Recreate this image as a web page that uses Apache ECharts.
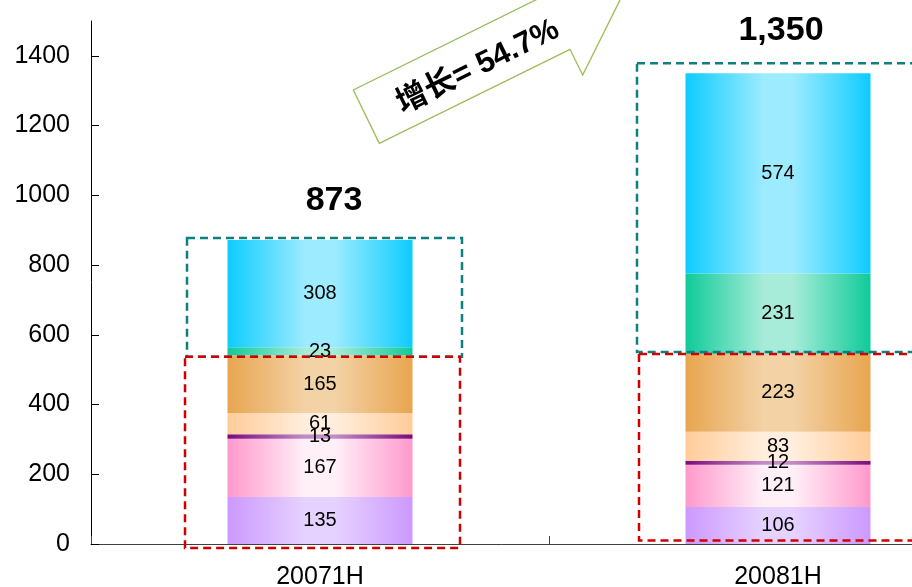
<!DOCTYPE html>
<html>
<head>
<meta charset="utf-8">
<style>
  html, body { margin: 0; padding: 0; background: #ffffff; }
  #chart { width: 912px; height: 587px; }
</style>
<script src="https://cdn.jsdelivr.net/npm/echarts@6.0.0/dist/echarts.min.js"></script>
</head>
<body>
<div id="chart"></div>
<script>
// Half-year periods on the category axis
const categories = ['20071H', '20081H'];

// Stack segments, bottom to top
const segPurple = [135, 106];
const segPink   = [167, 121];
const segPlum   = [13, 12];
const segPeach  = [61, 83];
const segOrange = [165, 223];
const segGreen  = [23, 231];
const segBlue   = [308, 574];

// Stated totals above each stack
const totals = [873, 1350];
const totalLabels = ['873', '1,350'];

// Value-axis ticks
const yTicks = [0, 200, 400, 600, 800, 1000, 1200, 1400];

const growthText = '增长= 54.7%';

const FONT = '"Liberation Sans", Arial, "Noto Sans CJK SC", sans-serif';

function barFill(edge, center) {
  return new echarts.graphic.LinearGradient(0, 0, 1, 0, [
    { offset: 0, color: edge },
    { offset: 0.42, color: center },
    { offset: 0.58, color: center },
    { offset: 1, color: edge }
  ]);
}

const segments = [
  { name: 'p1', data: segPurple, edge: '#CC99FF', center: '#E6D2FF' },
  { name: 'p2', data: segPink,   edge: '#FF99CC', center: '#FFF0F8' },
  { name: 'p3', data: segPlum,   edge: '#7A0A7E', center: '#C48CC4' },
  { name: 'p4', data: segPeach,  edge: '#FFCC99', center: '#FFEEDD' },
  { name: 'p5', data: segOrange, edge: '#E8A54F', center: '#F3D2A6' },
  { name: 'p6', data: segGreen,  edge: '#0FCB99', center: '#A6ECD8' },
  { name: 'p7', data: segBlue,   edge: '#0DCCFF', center: '#9CEBFF' }
];

const chart = echarts.init(document.getElementById('chart'), null, { renderer: 'canvas' });

const barSeries = segments.map(s => ({
  name: s.name,
  type: 'bar',
  stack: 'total',
  barWidth: 185,
  data: s.data,
  itemStyle: { color: barFill(s.edge, s.center) },
  label: {
    show: true,
    position: 'inside',
    color: '#000',
    fontSize: 20,
    fontFamily: FONT
  },
  emphasis: { disabled: true },
  animation: false
}));

const totalOffsets = [[14, 2], [3, -2]];

const totalSeries = {
  type: 'scatter',
  symbolSize: 0,
  itemStyle: { opacity: 1 },
  data: totals.map((v, i) => ({
    value: v,
    label: { offset: totalOffsets[i] }
  })),
  label: {
    show: true,
    position: 'top',
    distance: 24,
    color: '#000',
    opacity: 1,
    fontSize: 34,
    fontWeight: 'bold',
    fontFamily: FONT,
    formatter: p => totalLabels[p.dataIndex]
  },
  emphasis: { disabled: true },
  animation: false,
  z: 5
};

chart.setOption({
  animation: false,
  backgroundColor: '#ffffff',
  grid: { left: 91, top: 21, bottom: 43, width: 916, outerBoundsMode: 'none', containLabel: false },
  xAxis: {
    type: 'category',
    data: categories,
    axisLine: { lineStyle: { color: '#404040', width: 1 } },
    axisTick: { show: true, inside: true, length: 8, lineStyle: { color: '#404040' } },
    axisLabel: { fontSize: 25, color: '#000', fontFamily: FONT, margin: 21 },
    splitLine: { show: false }
  },
  yAxis: {
    type: 'value',
    min: 0,
    max: 1500,
    interval: 100,
    axisLine: { show: true, lineStyle: { color: '#000', width: 1 } },
    axisTick: {
      show: true, inside: true, length: 8,
      customValues: yTicks,
      lineStyle: { color: '#000' }
    },
    axisLabel: {
      customValues: yTicks,
      formatter: v => String(v),
      fontSize: 25, color: '#000', fontFamily: FONT, margin: 21
    },
    splitLine: { show: false }
  },
  series: barSeries.concat([totalSeries])
});

// Dashed group outlines: the upper (green + blue) and lower five segments of each stack
function px(i, v) { return chart.convertToPixel({ seriesIndex: 0 }, [i, v]); }

const lowerSums = categories.map((_, i) =>
  segPurple[i] + segPink[i] + segPlum[i] + segPeach[i] + segOrange[i]);
const stackTops = categories.map((_, i) =>
  lowerSums[i] + segGreen[i] + segBlue[i]);

// pixel insets of each outline relative to the stack it frames
const outlineInsets = [
  { upper: { l: -133, r: 142, t: -2, b: 1.5 }, lower: { l: -135, r: 140, t: 1.5, b: 4 } },
  { upper: { l: -141, r: 140, t: -10, b: -2 }, lower: { l: -139, r: 140, t: 0, b: -3.5 } }
];

const graphics = [];
categories.forEach((_, i) => {
  const base = px(i, 0);
  const mid = px(i, lowerSums[i]);
  const top = px(i, stackTops[i]);
  const xc = base[0];
  const ins = outlineInsets[i];
  const u = ins.upper, lo = ins.lower;
  graphics.push({
    type: 'rect',
    shape: { x: xc + u.l, y: top[1] + u.t, width: u.r - u.l, height: (mid[1] + u.b) - (top[1] + u.t) },
    style: { fill: 'none', stroke: '#0E8080', lineWidth: 2.5, lineDash: [8, 5] },
    z: 20
  });
  graphics.push({
    type: 'rect',
    shape: { x: xc + lo.l, y: mid[1] + lo.t, width: lo.r - lo.l, height: (base[1] + lo.b) - (mid[1] + lo.t) },
    style: { fill: 'none', stroke: '#D00000', lineWidth: 2.5, lineDash: [8, 5] },
    z: 20
  });
});

// Growth callout arrow
graphics.push({
  type: 'polygon',
  shape: {
    points: [
      [353.3, 90], [379.3, 143.3], [570, 49.3], [582.7, 75],
      [625.2, -10.4], [531.5, -29.8], [543.9, -4.1]
    ]
  },
  style: { fill: '#ffffff', stroke: '#9BBB59', lineWidth: 1.3 },
  z: 30
});
graphics.push({
  type: 'text',
  x: 478,
  y: 67,
  rotation: 26.2 * Math.PI / 180,
  style: {
    text: growthText,
    font: 'bold 31px "Liberation Sans", Arial, "Noto Sans CJK SC", sans-serif',
    fill: '#000',
    align: 'center',
    verticalAlign: 'middle'
  },
  z: 31
});

chart.setOption({ graphic: graphics });
</script>
</body>
</html>
